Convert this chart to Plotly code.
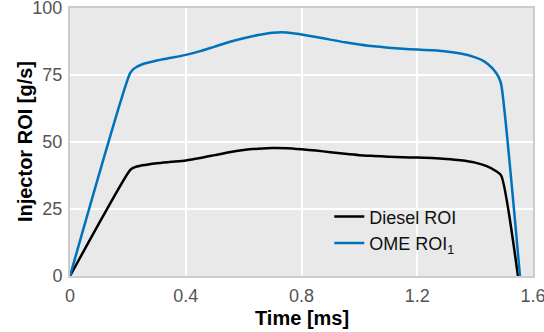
import plotly.graph_objects as go

time_diesel = [0, 0.207, 0.22, 0.25, 0.3, 0.35, 0.4, 0.45, 0.5, 0.55, 0.6, 0.65, 0.7, 0.75, 0.8, 0.85, 0.9, 0.95, 1.0, 1.05, 1.1, 1.15, 1.2, 1.25, 1.3, 1.35, 1.4, 1.44, 1.47, 1.49, 1.548]
roi_diesel = [0, 39.4, 40.4, 41.3, 42.1, 42.6, 43.1, 44.0, 45.1, 46.2, 47.0, 47.5, 47.8, 47.7, 47.3, 46.8, 46.2, 45.6, 45.1, 44.8, 44.5, 44.3, 44.2, 44.0, 43.7, 43.2, 42.3, 41.0, 39.3, 37.5, 0]

time_ome = [0, 0.207, 0.22, 0.25, 0.3, 0.35, 0.4, 0.45, 0.5, 0.55, 0.6, 0.65, 0.7, 0.75, 0.8, 0.85, 0.9, 0.95, 1.0, 1.05, 1.1, 1.15, 1.2, 1.25, 1.3, 1.35, 1.4, 1.43, 1.46, 1.48, 1.49, 1.555]
roi_ome = [0, 75.5, 77.3, 79.0, 80.4, 81.4, 82.5, 83.9, 85.6, 87.3, 88.7, 89.9, 90.8, 90.9, 90.1, 89.2, 88.2, 87.2, 86.4, 85.7, 85.2, 84.8, 84.5, 84.2, 83.8, 83.0, 81.6, 80.2, 77.5, 74.5, 71.5, 0]

x_ticks = [0, 0.4, 0.8, 1.2, 1.6]
x_tick_labels = ["0", "0.4", "0.8", "1.2", "1.6"]
y_ticks = [0, 25, 50, 75, 100]
y_tick_labels = ["0", "25", "50", "75", "100"]

FONT = "Liberation Sans, Arial, sans-serif"

fig = go.Figure()
fig.add_trace(go.Scatter(x=time_diesel, y=roi_diesel, mode="lines", name="Diesel ROI",
                         line=dict(color="#000000", width=2.5, shape="spline", smoothing=0.6)))
fig.add_trace(go.Scatter(x=time_ome, y=roi_ome, mode="lines", name="OME ROI<sub>1</sub>",
                         line=dict(color="#0072BD", width=2.5, shape="spline", smoothing=0.6)))

fig.update_layout(
    width=544, height=332,
    margin=dict(l=70, r=11, t=8, b=56, autoexpand=False),
    paper_bgcolor="white",
    plot_bgcolor="#e9e9e9",
    font=dict(family=FONT, size=18, color="#555555"),
    showlegend=True,
    legend=dict(x=0.56, y=0.29, xanchor="left", yanchor="top", bgcolor="rgba(0,0,0,0)",
                font=dict(family=FONT, size=18, color="#111111"), tracegroupgap=0,
                itemwidth=30),
    xaxis=dict(range=[0, 1.6], tickvals=x_ticks, ticktext=x_tick_labels,
               showgrid=True, gridcolor="white", gridwidth=2, zeroline=False,
               showline=True, linecolor="#cccccc", linewidth=2, mirror=True,
               ticks="outside", ticklen=2, tickcolor="rgba(0,0,0,0)",
               ticklabeloverflow="allow",
               tickfont=dict(size=18, color="#555555"), automargin=False),
    yaxis=dict(range=[0, 100], tickvals=y_ticks, ticktext=y_tick_labels,
               showgrid=True, gridcolor="white", gridwidth=2, zeroline=False,
               showline=True, linecolor="#cccccc", linewidth=2, mirror=True,
               ticks="outside", ticklen=2, tickcolor="rgba(0,0,0,0)",
               ticklabeloverflow="allow",
               tickfont=dict(size=18, color="#555555"), automargin=False),
    annotations=[
        dict(text="<b>Time [ms]</b>", xref="paper", yref="paper", x=0.5, y=-0.156,
             xanchor="center", yanchor="middle", showarrow=False,
             font=dict(family=FONT, size=20, color="#000000")),
        dict(text="<b>Injector ROI [g/s]</b>", xref="paper", yref="paper", x=-0.097, y=0.5,
             xanchor="center", yanchor="middle", showarrow=False, textangle=-90,
             font=dict(family=FONT, size=20, color="#000000")),
    ],
)

fig.write_html("out.html", config={"displayModeBar": False},
               post_script="document.body.style.margin='0';document.body.style.overflow='hidden';")
